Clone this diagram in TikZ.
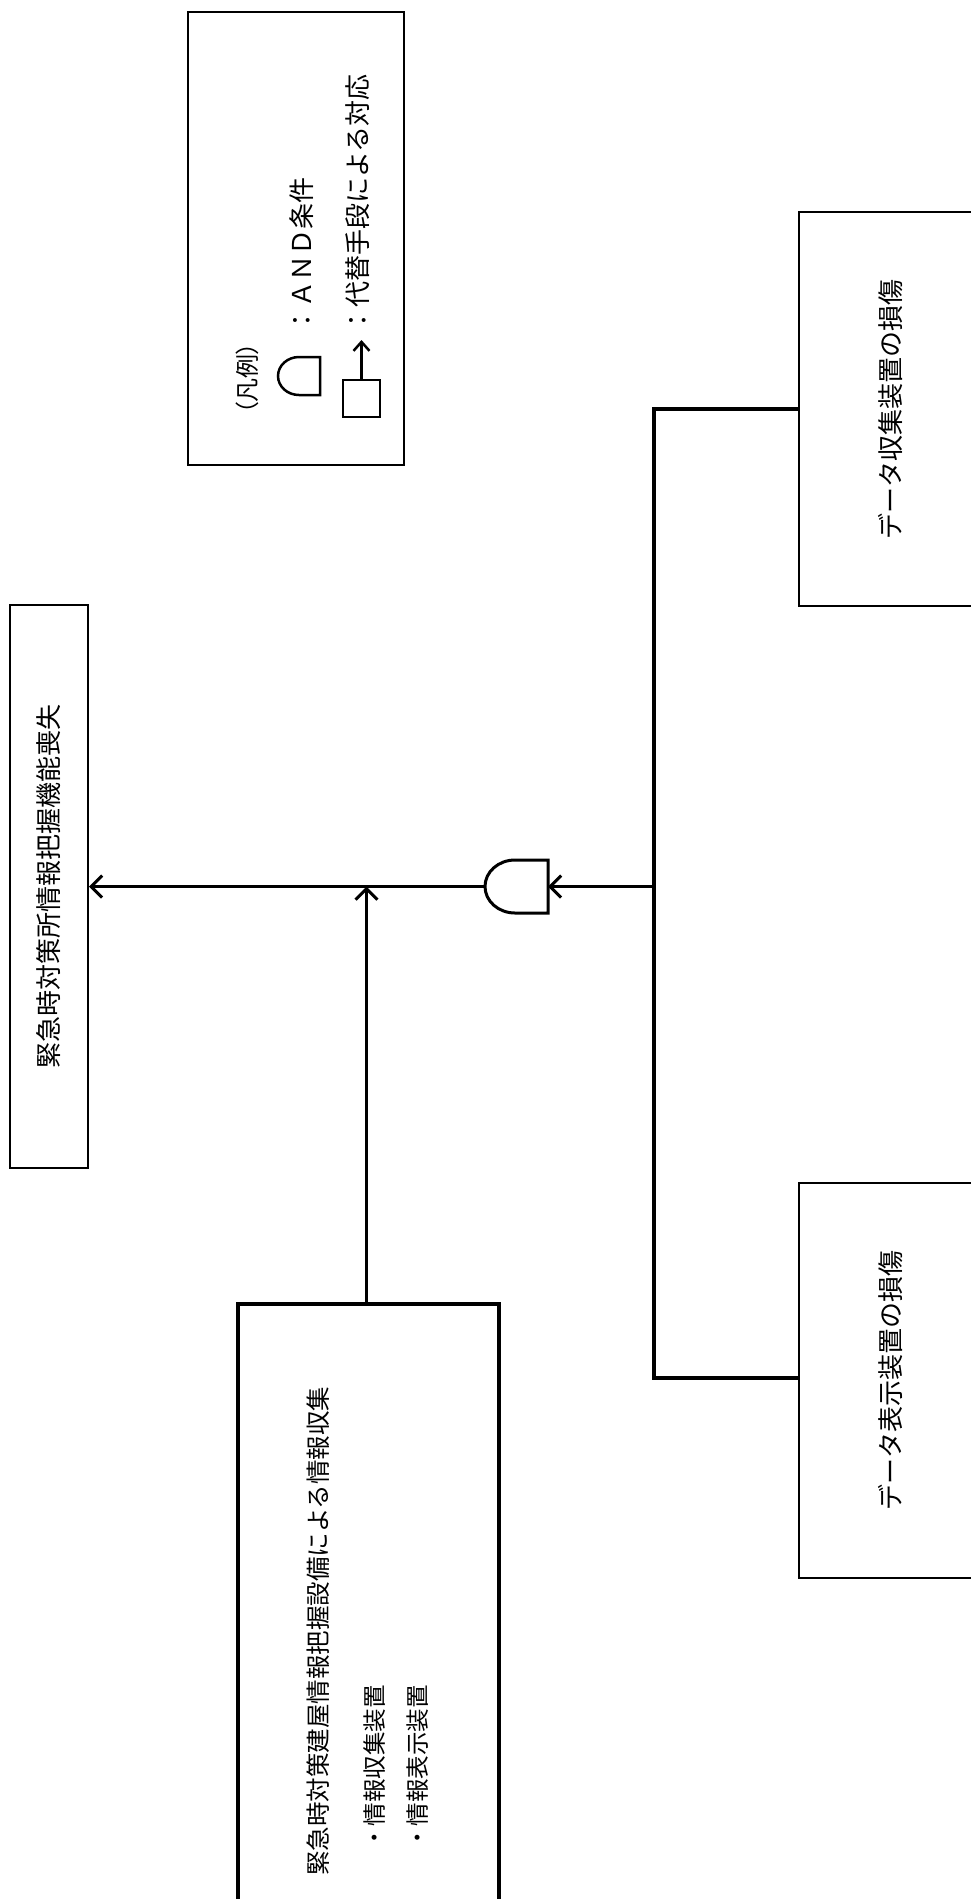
\documentclass[tikz,border=0pt]{standalone}
\usepackage{fontspec}
\usetikzlibrary{arrows.meta}
\newfontfamily\jp{Noto Sans CJK JP}
\newfontfamily\jpp[RawFeature=+palt]{Noto Sans CJK JP}
\begin{document}
\begin{tikzpicture}[x=1pt,y=-1pt,
  box/.style={draw, line width=2pt, inner sep=0pt},
  thickbox/.style={draw, line width=3.5pt, inner sep=0pt},
  txt/.style={inner sep=0pt, font=\jp\fontsize{26pt}{26pt}\selectfont},
  stxt/.style={inner sep=0pt, font=\jp\fontsize{24.5pt}{24.5pt}\selectfont},
  btxt/.style={inner sep=0pt, font=\jp\fontsize{23.5pt}{23.5pt}\selectfont},
  conn/.style={line width=3.5pt},
  tip/.style={-{Straight Barb[length=11pt,width=22pt,line width=3pt]}},
  ltip/.style={-{Straight Barb[length=9pt,width=16pt,line width=2.5pt]}}
]
\clip (0,0) rectangle (971,1899);
\fill[white] (0,0) rectangle (971,1899);

% legend
\node[box, minimum width=216pt, minimum height=453pt] (legend) at (296,238.5) {};
\node[inner sep=0pt, anchor=south, font=\jpp\fontsize{24pt}{24pt}\selectfont] (lgtitle) at (247,415) {\rotatebox{90}{（凡例）}};
\node[txt, anchor=south] (lgand) at (302,334) {\rotatebox{90}{：ＡＮＤ条件}};
\node[txt, anchor=south] (lgalt) at (358,334) {\rotatebox{90}{：代替手段による対応}};
\draw[line width=2.5pt] (320,357) -- (299,357)
  .. controls (287.4,357) and (278,365.5) .. (278,376)
  .. controls (278,386.5) and (287.4,395) .. (299,395) -- (320,395) -- cycle;
\node[draw, line width=2.5pt, minimum width=37pt, minimum height=37pt, inner sep=0pt] (lgsq) at (361.5,398.5) {};
\coordinate (lgtip) at (361.5,340);
\draw[line width=2.5pt, ltip] (lgsq.north) -- (lgtip);

% top event
\node[box, minimum width=78pt, minimum height=563pt] (top) at (49,886.5)
  {\rotatebox{90}{\jp\fontsize{26pt}{26pt}\selectfont 緊急時対策所情報把握機能喪失}};

% right boxes
\node[box, minimum width=184pt, minimum height=394pt] (rt) at (891,409)
  {\rotatebox{90}{\jp\fontsize{26pt}{26pt}\selectfont データ収集装置の損傷}};
\node[box, minimum width=184pt, minimum height=395pt] (rb) at (891,1380.5)
  {\rotatebox{90}{\jp\fontsize{26pt}{26pt}\selectfont データ表示装置の損傷}};

% bottom-left box
\node[thickbox, minimum width=261pt, minimum height=640pt] (bl) at (368.5,1624) {};
\node[stxt, anchor=south] (bl1) at (318,1876) {\rotatebox{90}{緊急時対策建屋情報把握設備による情報収集}};
\node[btxt, anchor=south] (bl2) at (375,1850) {\rotatebox{90}{・情報収集装置}};
\node[btxt, anchor=south] (bl3) at (418,1850) {\rotatebox{90}{・情報表示装置}};

% AND gate
\coordinate (gout) at (485,886.5);
\coordinate (gin) at (548,886.5);
\draw[line width=3pt] (548,860) -- (515,860)
  .. controls (498.4,860) and (485,871.9) .. (gout)
  .. controls (485,901.1) and (498.4,913) .. (515,913) -- (548,913) -- cycle;

% connectors
\coordinate (bustop) at (654,409);
\coordinate (busbot) at (654,1378);
\coordinate (busmid) at (654,886.5);
\coordinate (junc) at (366.5,886.5);
\draw[conn] (rt.west) -- (bustop) -- (busbot) -- (rb.west |- busbot);
\draw[conn, tip] (busmid) -- (gin);
\draw[conn, tip] (gout) -- (top.east);
\draw[conn, tip] (bl.north -| junc) -- (junc);
\end{tikzpicture}
\end{document}
